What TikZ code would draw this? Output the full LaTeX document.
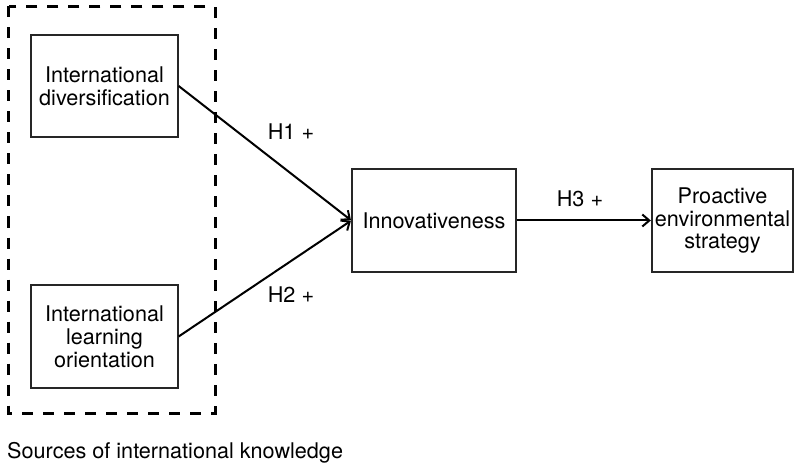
\documentclass[tikz,border=0pt]{standalone}
\usepackage{fontspec}
\setmainfont{TeX Gyre Heros}
\usetikzlibrary{arrows.meta}
\begin{document}
\begin{tikzpicture}[x=1bp,y=-1bp,
  every node/.style={font=\fontsize{21.7}{23}\selectfont, inner sep=0pt},
  factor/.style={draw=black!85, line width=1.3bp, align=center, fill=white},
  group/.style={draw=black, line width=3bp, dash pattern=on 11bp off 10bp},
  link/.style={draw=black, line width=2bp, -{Straight Barb[length=7bp,width=12bp,line width=2bp]}, shorten >=0.5bp},
  hyp/.style={anchor=center}]
  \useasboundingbox (0,0) rectangle (794,465);

  % sources of international knowledge
  \draw[group] (8.5,6.5) rectangle (215,413);

  \node[factor, minimum width=147bp, minimum height=102bp] (div) at (104.5,86) {International\\diversification};
  \node[factor, minimum width=147bp, minimum height=103bp] (lrn) at (104.5,336.5) {International\\learning\\orientation};
  \node[factor, minimum width=164bp, minimum height=103bp] (inn) at (434,220.5) {Innovativeness};
  \node[factor, minimum width=141bp, minimum height=103bp] (pes) at (722.5,220.5) {Proactive\\environmental\\strategy};

  % hypothesised paths
  \draw[link] (div.east) -- (inn.west);
  \draw[link] (lrn.east) -- (inn.west);
  \draw[link] (inn.east) -- (pes.west);

  \node[hyp] (h1) at (291,132) {H1 +};
  \node[hyp] (h2) at (291,295) {H2 +};
  \node[hyp] (h3) at (580,199) {H3 +};

  \node[anchor=base west] (cap) at (7,458) {Sources of international knowledge};
\end{tikzpicture}
\end{document}
